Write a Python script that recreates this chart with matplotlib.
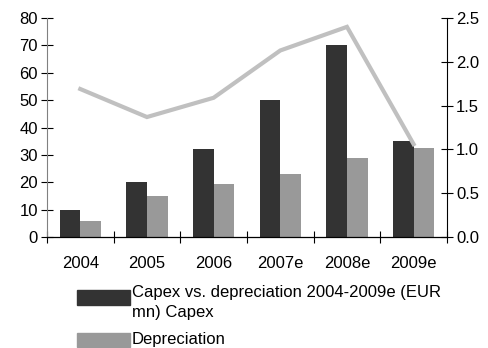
import matplotlib.pyplot as plt
from matplotlib.patches import Rectangle
import numpy as np

plt.rcParams['font.family'] = ['Liberation Sans', 'DejaVu Sans']

# Capex vs. depreciation, EUR mn, with capex/depreciation ratio on the right axis
years = ["2004", "2005", "2006", "2007e", "2008e", "2009e"]
capex = [10, 20, 32, 50, 70, 35]
depreciation = [6, 15, 19.5, 23, 29, 32.5]
ratio = [1.69, 1.37, 1.59, 2.13, 2.40, 1.06]

capex_color = '#333333'
depr_color = '#999999'
line_color = '#c0c0c0'

fig = plt.figure(figsize=(4.89, 3.48), dpi=100)
ax = fig.add_axes([0.096, 0.319, 0.818, 0.629])
ax2 = ax.twinx()

x = np.arange(len(years))
w = 0.31
ax.bar(x - w / 2, capex, w, color=capex_color, zorder=2)
ax.bar(x + w / 2, depreciation, w, color=depr_color, zorder=2)
ax2.plot(x, ratio, color=line_color, lw=3, solid_joinstyle='miter')

ax.set_xlim(-0.5, len(years) - 0.5)
ax.set_ylim(0, 80)
ax.set_yticks(range(0, 81, 10))
ax2.set_ylim(0, 2.5)
ax2.set_yticks(np.arange(0, 2.51, 0.5))
ax2.set_yticklabels([f"{v:.1f}" for v in np.arange(0, 2.51, 0.5)])

# category labels in the middle, tick marks on the boundaries
ax.set_xticks(x)
ax.set_xticklabels(years)
ax.set_xticks(np.arange(-0.5, len(years)), minor=True)
ax.tick_params(axis='x', which='major', length=0, pad=14, labelsize=12)
ax.tick_params(axis='x', which='minor', direction='inout', length=9, width=0.8)
ax.tick_params(axis='y', direction='inout', length=9, width=0.8, labelsize=12, pad=2)
ax2.tick_params(axis='y', direction='inout', length=9, width=0.8, labelsize=12, pad=2)

for a in (ax, ax2):
    a.spines['top'].set_visible(False)
ax.spines['left'].set_color('#808080')
ax2.spines['left'].set_visible(False)
ax2.spines['bottom'].set_visible(False)
ax.spines['right'].set_visible(False)
ax2.spines['right'].set_linewidth(0.8)
ax.spines['bottom'].set_linewidth(0.9)

# legend below the plot, handles aligned to the first line of text
fig.add_artist(Rectangle((77 / 489, 1 - 305 / 348), 53 / 489, 15 / 348,
                         transform=fig.transFigure, color=capex_color))
fig.text(132 / 489, 1 - 285 / 348, "Capex vs. depreciation 2004-2009e (EUR\nmn) Capex",
         fontsize=12, va='top', ha='left', linespacing=1.4)
fig.add_artist(Rectangle((77 / 489, 1 - 347 / 348), 53 / 489, 14 / 348,
                         transform=fig.transFigure, color=depr_color))
fig.text(132 / 489, 1 - 332 / 348, "Depreciation", fontsize=12, va='top', ha='left')

fig.savefig('out.png', dpi=100)
